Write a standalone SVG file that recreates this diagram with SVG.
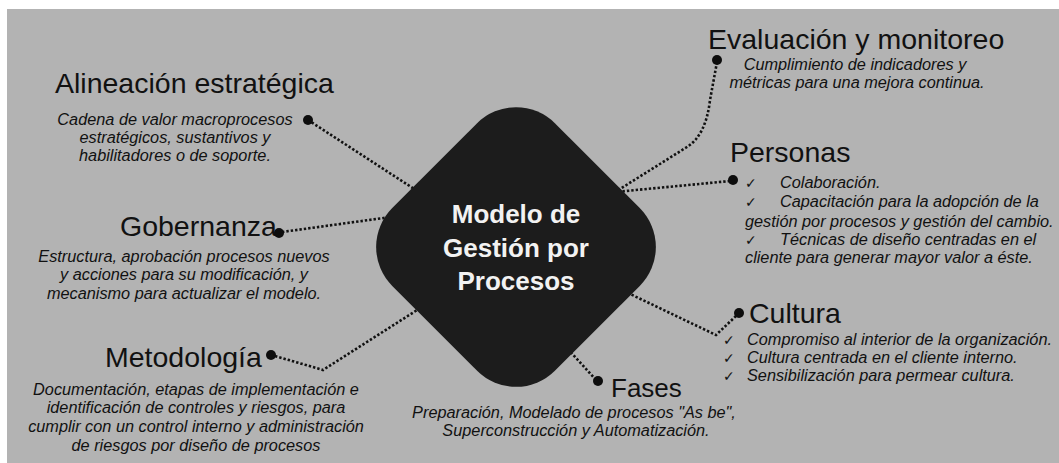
<svg xmlns="http://www.w3.org/2000/svg" width="1059" height="463" viewBox="0 0 1059 463">
<style>
.title{font-family:"Liberation Sans",Arial,sans-serif;font-size:28.5px;fill:#111;}
.desc{font-family:"Liberation Sans",Arial,sans-serif;font-size:16.3px;font-style:italic;fill:#111;}
.chk{font-family:"DejaVu Sans",sans-serif;font-size:14px;fill:#111;}
.center{font-family:"Liberation Sans",Arial,sans-serif;font-size:26px;font-weight:bold;fill:#f2f2f2;text-anchor:middle;}
.dot{fill:#0d0d0d;}
.conn{fill:none;stroke:#111;stroke-width:2.6;stroke-dasharray:2.4 2;}
</style>
<rect x="0" y="0" width="1059" height="463" fill="#ffffff"/>
<rect x="7" y="9" width="1052" height="454" fill="#b3b3b3"/>
<g id="connectors">
<path class="conn" d="M308,120 L425,196"/>
<path class="conn" d="M282,232 L398,216"/>
<path class="conn" d="M275,356 L323,370 L425,305"/>
<path class="conn" d="M717,62 L710,100 Q706,135 687,147 L612,194"/>
<path class="conn" d="M730,181 L605,193"/>
<path class="conn" d="M736,316 L716,335 L605,282"/>
<path class="conn" d="M596,380 L555,335"/>
</g>
<g id="node-centro">
<rect x="-115" y="-115" width="230" height="230" rx="55" fill="#1c1c1c" transform="translate(516,247) rotate(45)"/>
<text class="center" x="516" y="223">Modelo de</text>
<text class="center" x="516" y="257">Gestión por</text>
<text class="center" x="516" y="290">Procesos</text>
</g>
<g id="node-alineacion">
<text class="title" x="55" y="93">Alineación estratégica</text>
<circle class="dot" cx="308" cy="120" r="5"/>
<text class="desc" text-anchor="middle" x="175" y="125">Cadena de valor macroprocesos</text>
<text class="desc" text-anchor="middle" x="175" y="143">estratégicos, sustantivos y</text>
<text class="desc" text-anchor="middle" x="175" y="161">habilitadores o de soporte.</text>
</g>
<g id="node-gobernanza">
<text class="title" x="120" y="236">Gobernanza</text>
<circle class="dot" cx="279" cy="233" r="5"/>
<text class="desc" text-anchor="middle" x="184" y="262">Estructura, aprobación procesos nuevos</text>
<text class="desc" text-anchor="middle" x="184" y="280">y acciones para su modificación, y</text>
<text class="desc" text-anchor="middle" x="184" y="299">mecanismo para actualizar el modelo.</text>
</g>
<g id="node-metodologia">
<text class="title" x="105" y="367">Metodología</text>
<circle class="dot" cx="271" cy="355" r="5"/>
<text class="desc" text-anchor="middle" x="196" y="395">Documentación, etapas de implementación e</text>
<text class="desc" text-anchor="middle" x="196" y="413">identificación de controles y riesgos, para</text>
<text class="desc" text-anchor="middle" x="196" y="432">cumplir con un control interno y administración</text>
<text class="desc" text-anchor="middle" x="196" y="451">de riesgos por diseño de procesos</text>
</g>
<g id="node-evaluacion">
<text class="title" x="708" y="49">Evaluación y monitoreo</text>
<circle class="dot" cx="717" cy="60" r="5"/>
<text class="desc" text-anchor="middle" x="855" y="70">Cumplimiento de indicadores y</text>
<text class="desc" text-anchor="middle" x="857" y="88">métricas para una mejora continua.</text>
</g>
<g id="node-personas">
<text class="title" x="730" y="162">Personas</text>
<circle class="dot" cx="733" cy="180" r="5"/>
<text class="chk" x="745" y="188">✓</text>
<text class="desc" x="780" y="188">Colaboración.</text>
<text class="chk" x="745" y="207">✓</text>
<text class="desc" x="780" y="207">Capacitación para la adopción de la</text>
<text class="desc" x="745" y="227">gestión por procesos y gestión del cambio.</text>
<text class="chk" x="745" y="245">✓</text>
<text class="desc" x="780" y="245">Técnicas de diseño centradas en el</text>
<text class="desc" x="745" y="263">cliente para generar mayor valor a éste.</text>
</g>
<g id="node-cultura">
<circle class="dot" cx="739" cy="313" r="5"/>
<text class="title" x="749" y="323">Cultura</text>
<text class="chk" x="723" y="345">✓</text>
<text class="desc" x="747" y="345">Compromiso al interior de la organización.</text>
<text class="chk" x="723" y="363">✓</text>
<text class="desc" x="747" y="363">Cultura centrada en el cliente interno.</text>
<text class="chk" x="723" y="381">✓</text>
<text class="desc" x="747" y="381">Sensibilización para permear cultura.</text>
</g>
<g id="node-fases">
<circle class="dot" cx="598" cy="381" r="5"/>
<text class="title" style="font-size:26px" x="611" y="397">Fases</text>
<text class="desc" text-anchor="middle" x="574" y="418">Preparación, Modelado de procesos "As be",</text>
<text class="desc" text-anchor="middle" x="576" y="436">Superconstrucción y Automatización.</text>
</g>
</svg>
